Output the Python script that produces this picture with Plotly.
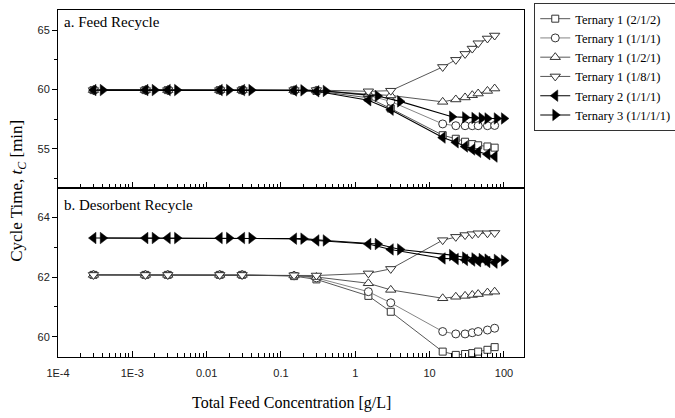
import plotly.graph_objects as go
from plotly.subplots import make_subplots

# Total feed concentration [g/L]
conc_ternary = [3e-4, 1.5e-3, 3e-3, 1.5e-2, 3e-2, 0.15, 0.3, 1.5, 3, 15, 22.5, 30, 37.5, 45, 60, 75]
conc_quaternary = [4e-4, 2e-3, 4e-3, 2e-2, 4e-2, 0.2, 0.4, 2, 4, 20, 30, 40, 50, 60, 80, 100]

series_names = ["Ternary 1 (2/1/2)", "Ternary 1 (1/1/1)", "Ternary 1 (1/2/1)",
                "Ternary 1 (1/8/1)", "Ternary 2 (1/1/1)", "Ternary 3 (1/1/1/1)"]

# a. Feed recycle: cycle time [min]
feed_t1_212 = [59.95, 59.95, 59.95, 59.95, 59.95, 59.93, 59.88, 59.3, 58.4, 56.15, 55.85, 55.6, 55.4, 55.3, 55.2, 55.1]
feed_t1_111 = [59.95, 59.95, 59.95, 59.95, 59.95, 59.93, 59.9, 59.5, 59.0, 57.1, 56.95, 56.95, 56.95, 56.95, 56.95, 56.97]
feed_t1_121 = [59.95, 59.95, 59.95, 59.95, 59.95, 59.94, 59.92, 59.6, 59.5, 58.96, 59.16, 59.33, 59.52, 59.66, 59.88, 60.08]
feed_t1_181 = [59.95, 59.95, 59.95, 59.95, 59.95, 59.95, 59.95, 59.85, 59.9, 61.9, 62.5, 63.0, 63.45, 63.9, 64.3, 64.55]
feed_t2 = [59.95, 59.95, 59.95, 59.95, 59.95, 59.92, 59.85, 59.1, 58.3, 55.95, 55.55, 55.2, 54.95, 54.75, 54.55, 54.35]
feed_t3 = [59.95, 59.95, 59.95, 59.95, 59.95, 59.93, 59.88, 59.45, 59.0, 57.7, 57.65, 57.6, 57.58, 57.56, 57.56, 57.56]

# b. Desorbent recycle: cycle time [min]
des_t1_212 = [62.07, 62.07, 62.07, 62.07, 62.07, 62.03, 61.92, 61.37, 60.84, 59.51, 59.4, 59.43, 59.46, 59.51, 59.57, 59.66]
des_t1_111 = [62.07, 62.07, 62.07, 62.07, 62.07, 62.04, 61.97, 61.51, 61.14, 60.18, 60.1, 60.1, 60.14, 60.18, 60.23, 60.29]
des_t1_121 = [62.07, 62.07, 62.07, 62.07, 62.07, 62.05, 62.0, 61.79, 61.57, 61.29, 61.34, 61.37, 61.4, 61.43, 61.48, 61.51]
des_t1_181 = [62.07, 62.07, 62.07, 62.07, 62.07, 62.06, 62.05, 62.12, 62.27, 63.23, 63.34, 63.4, 63.43, 63.46, 63.46, 63.47]
des_t2 = [63.3, 63.3, 63.3, 63.3, 63.3, 63.28, 63.22, 63.1, 62.92, 62.62, 62.6, 62.57, 62.55, 62.53, 62.5, 62.48]
des_t3 = [63.3, 63.3, 63.3, 63.3, 63.3, 63.28, 63.22, 63.1, 62.92, 62.73, 62.65, 62.62, 62.6, 62.58, 62.57, 62.55]

x_tickvals = [1e-4, 1e-3, 1e-2, 1e-1, 1, 10, 100]
x_ticktext = ["1E-4", "1E-3", "0.01", "0.1", "1", "10", "100"]

SERIF = "Liberation Serif, Times New Roman, serif"
SANS = "Liberation Sans, Arial, sans-serif"

styles = [
    dict(symbol="square", size=7, color="white", line=dict(color="#333", width=1), lc="#444", lw=0.9),
    dict(symbol="circle", size=8, color="white", line=dict(color="#333", width=1), lc="#777", lw=0.9),
    dict(symbol="triangle-up", size=9, color="white", line=dict(color="#333", width=1), lc="#444", lw=0.9),
    dict(symbol="triangle-down", size=9, color="white", line=dict(color="#333", width=1), lc="#444", lw=0.9),
    dict(symbol="triangle-left", size=10, color="black", line=dict(color="black", width=0.5), lc="black", lw=1.1),
    dict(symbol="triangle-right", size=10, color="black", line=dict(color="black", width=0.5), lc="black", lw=1.1),
]

fig = make_subplots(rows=2, cols=1, shared_xaxes=True, vertical_spacing=0.0,
                    row_heights=[0.513, 0.487])

panels = [
    (1, [feed_t1_212, feed_t1_111, feed_t1_121, feed_t1_181, feed_t2, feed_t3]),
    (2, [des_t1_212, des_t1_111, des_t1_121, des_t1_181, des_t2, des_t3]),
]

for row, ys in panels:
    for i, (name, y, st) in enumerate(zip(series_names, ys, styles)):
        xs = conc_quaternary if i == 5 else conc_ternary
        fig.add_trace(go.Scatter(
            x=xs, y=y, name=name, mode="lines+markers",
            line=dict(color=st["lc"], width=st["lw"]),
            marker=dict(symbol=st["symbol"], size=st["size"], color=st["color"], line=st["line"]),
            showlegend=(row == 1),
        ), row=row, col=1)

xaxis_common = dict(
    type="log", range=[-4, 2.27], tickmode="array", tickvals=x_tickvals, ticktext=x_ticktext,
    ticks="inside", ticklen=6, tickcolor="black", showline=True, linecolor="black", linewidth=1,
    mirror=True, showgrid=False, zeroline=False, ticklabelstandoff=6,
    minor=dict(ticks="inside", ticklen=4, tickcolor="black", dtick="D1", showgrid=False),
    tickfont=dict(family=SANS, size=11, color="#222"),
)
fig.update_xaxes(**xaxis_common)
fig.update_xaxes(showticklabels=False, row=1, col=1)

yaxis_common = dict(
    ticks="outside", ticklen=5, tickcolor="black", showline=True, linecolor="black", linewidth=1,
    mirror=True, showgrid=False, zeroline=False,
    tickfont=dict(family=SANS, size=11, color="#222"),
)
fig.update_yaxes(**yaxis_common)
fig.update_yaxes(range=[51.7, 66.7], tickvals=[55, 60, 65],
                 minor=dict(ticks="outside", ticklen=3, tickcolor="black", tickvals=[52.5, 57.5, 62.5]),
                 row=1, col=1)
fig.update_yaxes(range=[59.33, 64.97], tickvals=[60, 62, 64],
                 minor=dict(ticks="outside", ticklen=3, tickcolor="black", tickvals=[61, 63]),
                 row=2, col=1)

fig.add_annotation(text="a. Feed Recycle", xref="paper", yref="paper", x=0.008, y=0.995,
                   xanchor="left", yanchor="top", showarrow=False,
                   font=dict(family=SERIF, size=15, color="black"))
fig.add_annotation(text="b. Desorbent Recycle", xref="paper", yref="paper", x=0.008, y=0.468,
                   xanchor="left", yanchor="top", showarrow=False,
                   font=dict(family=SERIF, size=15, color="black"))
fig.add_annotation(text="Cycle Time, <i>t</i><sub><i>C</i></sub> [min]", xref="paper", yref="paper",
                   x=-0.085, y=0.48, textangle=-90, showarrow=False,
                   xanchor="center", yanchor="middle",
                   font=dict(family=SERIF, size=17, color="black"))
fig.add_annotation(text="Total Feed Concentration [g/L]", xref="paper", yref="paper",
                   x=0.5, y=-0.1, showarrow=False, xanchor="center", yanchor="top",
                   font=dict(family=SERIF, size=16, color="black"))

fig.update_layout(
    width=675, height=418,
    margin=dict(l=58, r=151, t=10, b=61, autoexpand=False),
    plot_bgcolor="white", paper_bgcolor="white",
    legend=dict(x=1.022, y=1.02, xanchor="left", yanchor="top",
                bordercolor="#333", borderwidth=1, bgcolor="white",
                font=dict(family=SERIF, size=12.5, color="black"),
                tracegroupgap=0, itemsizing="trace", itemwidth=30),
)

fig.write_html("out.html")
